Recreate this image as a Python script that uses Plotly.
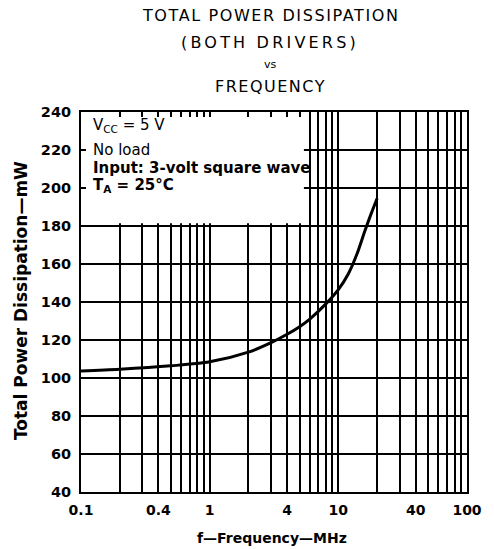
import plotly.graph_objects as go

# curve
freq_mhz = [0.1, 0.2, 0.5, 1, 2, 3, 4, 5, 6, 8, 10, 12, 14, 16, 18, 20]
power_mw = [103.7, 104.6, 106.4, 108.5, 113.6, 118.6, 123, 127, 131, 139, 146.5, 155, 165.5, 177, 186.5, 194.5]

# log grid lines and labels
grid_x = [m * 10 ** e for e in (-1, 0, 1) for m in range(1, 10)] + [100]
label_x = {0.1: "0.1", 0.4: "0.4", 1: "1", 4: "4", 10: "10", 40: "40", 100: "100"}
y_ticks = list(range(40, 241, 20))

notes = ["V<sub>CC</sub> = 5 V", "No load", "<b>Input: 3-volt square wave</b>", "<b>T<sub>A</sub> = 25°C</b>"]
note_y = [233, 220, 210.5, 201.5]

title_lines = ["TOTAL POWER DISSIPATION", "(BOTH DRIVERS)", "vs", "FREQUENCY"]
title_y = [1.255, 1.184, 1.126, 1.066]
title_size = [16, 16, 11, 16]
title_spacing = [1.6, 3.2, 0, 1.5]

font = "DejaVu Sans, Arial, sans-serif"

fig = go.Figure()
fig.add_trace(go.Scatter(x=freq_mhz, y=power_mw, mode="lines",
                         line=dict(color="black", width=3, shape="spline", smoothing=0.8),
                         showlegend=False, hoverinfo="skip"))

fig.update_xaxes(type="log", range=[-1, 2],
                 tickvals=grid_x,
                 ticktext=[label_x.get(round(v, 3), "") for v in grid_x],
                 showgrid=True, gridcolor="black", gridwidth=1.6,
                 showline=True, linecolor="black", linewidth=2, mirror="ticks",
                 ticks="inside", ticklen=5, tickcolor="black", tickwidth=1.6,
                 ticklabelstandoff=4,
                 tickfont=dict(family=font, size=14, color="black", weight="bold"),
                 zeroline=False)
fig.update_yaxes(range=[40, 240], tickvals=y_ticks,
                 showgrid=True, gridcolor="black", gridwidth=1.6,
                 showline=True, linecolor="black", linewidth=2, mirror="ticks",
                 ticks="inside", ticklen=5, tickcolor="black", tickwidth=1.6,
                 ticklabelstandoff=5,
                 tickfont=dict(family=font, size=14.5, color="black", weight="bold"),
                 zeroline=False)

# white panel behind the conditions text
fig.add_shape(type="rect", xref="x", yref="y", x0=0.1, x1=5.4, y0=181.5, y1=240,
              fillcolor="white", line_width=0, layer="between")

for txt, yy in zip(notes, note_y):
    fig.add_annotation(text=txt, xref="paper", yref="y", x=0.027, y=yy,
                       xanchor="left", yanchor="middle", showarrow=False,
                       font=dict(family=font, size=15, color="black"))

for txt, yy, sz, sp in zip(title_lines, title_y, title_size, title_spacing):
    fig.add_annotation(text=f'<span style="letter-spacing:{sp}px">{txt}</span>',
                       xref="paper", yref="paper", x=0.49, y=yy,
                       xanchor="center", yanchor="middle", showarrow=False,
                       font=dict(family=font, size=sz, color="black"))

fig.add_annotation(text="<b>Total Power Dissipation\u2014mW</b>", xref="paper", yref="paper",
                   x=-0.155, y=0.503, textangle=-90, showarrow=False,
                   xanchor="center", yanchor="middle",
                   font=dict(family=font, size=17, color="black"))
fig.add_annotation(text="<b>f\u2014Frequency\u2014MHz</b>", xref="paper", yref="paper",
                   x=0.496, y=-0.121, showarrow=False,
                   xanchor="center", yanchor="middle",
                   font=dict(family=font, size=14, color="black"))

fig.update_layout(width=494, height=549,
                  margin=dict(l=81, r=25, t=112, b=57),
                  paper_bgcolor="white", plot_bgcolor="white")

# drop the page's default body margin so the figure sits at the window's corner
fig.write_html("out.html", config={"displayModeBar": False},
               post_script="document.body.style.margin='0';")
